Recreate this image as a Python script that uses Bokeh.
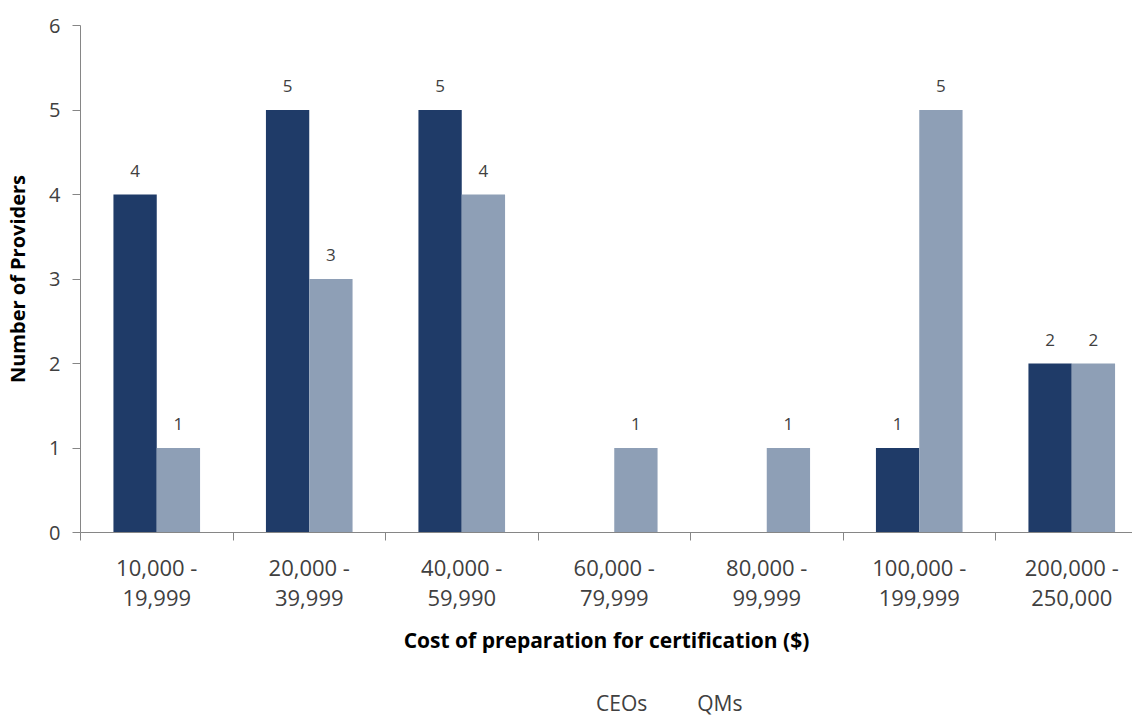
import numpy as np
from bokeh.plotting import figure
from bokeh.layouts import column
from bokeh.core.properties import value
from bokeh.models import (ColumnDataSource, FixedTicker, LabelSet, Legend, LegendItem,
                          Range1d, LinearAxis)
from bokeh.embed import file_html
from bokeh.resources import INLINE

cat_line1 = ["10,000 -", "20,000 -", "40,000 -", "60,000 -", "80,000 -",
             "100,000 -", "200,000 -"]
cat_line2 = ["19,999", "39,999", "59,990", "79,999", "99,999", "199,999", "250,000"]
ceos = [4, 5, 5, 0, 0, 1, 2]
qms = [1, 3, 4, 1, 1, 5, 2]
y_ticks = [0, 1, 2, 3, 4, 5, 6]
series_names = ["CEOs", "QMs"]

FONT = "Open Sans"
CEO_COLOR = "#1F3B68"
QM_COLOR = "#8E9FB6"
TEXT_COLOR = "#404040"
AXIS_COLOR = "#868686"

n = len(cat_line1)
idx = np.arange(n)
bw = 0.284
ceo_x = idx + 0.5 - bw / 2
qm_x = idx + 0.5 + bw / 2

p = figure(frame_width=1052, frame_height=507,
           output_backend="svg", toolbar_location=None,
           x_range=Range1d(0, 1052 / 152.5), y_range=Range1d(0, 6),
           min_border_left=80, min_border_right=0, min_border_top=25,
           min_border_bottom=0)
p.outline_line_color = None
p.xgrid.visible = False
p.ygrid.visible = False

src_c = ColumnDataSource(dict(x=ceo_x, top=ceos))
src_q = ColumnDataSource(dict(x=qm_x, top=qms))
p.vbar(x="x", top="top", width=bw, source=src_c, fill_color=CEO_COLOR, line_color=None)
p.vbar(x="x", top="top", width=bw, source=src_q, fill_color=QM_COLOR, line_color=None)

# value labels (skip zeros)
lab_x = [x for x, v in zip(ceo_x, ceos) if v > 0] + [x for x, v in zip(qm_x, qms) if v > 0]
lab_y = [v for v in ceos if v > 0] + [v for v in qms if v > 0]
lab_src = ColumnDataSource(dict(x=lab_x, y=lab_y, t=[str(v) for v in lab_y]))
p.add_layout(LabelSet(x="x", y="y", text="t", source=lab_src, y_offset=18,
                      text_align="center", text_baseline="bottom",
                      text_font=value(FONT), text_font_size="17px",
                      text_color=TEXT_COLOR))

centers = [float(i + 0.5) for i in idx]

# x axis: first line of category labels + separators
xa = p.xaxis[0]
xa.ticker = FixedTicker(ticks=centers, minor_ticks=list(range(n + 1)))
xa.major_label_overrides = {c: t for c, t in zip(centers, cat_line1)}
xa.major_tick_out = 0
xa.major_tick_in = 0
xa.minor_tick_out = 8
xa.minor_tick_in = 0
xa.minor_tick_line_color = AXIS_COLOR
xa.axis_line_color = AXIS_COLOR
xa.major_label_standoff = 11
xa.major_label_text_font = FONT
xa.major_label_text_font_size = "22px"
xa.major_label_text_color = TEXT_COLOR

# second line of category labels + axis title
xb = LinearAxis(ticker=FixedTicker(ticks=centers, minor_ticks=[]))
xb.major_label_overrides = {c: t for c, t in zip(centers, cat_line2)}
xb.axis_line_color = None
xb.major_tick_line_color = None
xb.minor_tick_line_color = None
xb.major_tick_out = 0
xb.major_tick_in = 0
xb.major_label_standoff = 5
xb.major_label_text_font = FONT
xb.major_label_text_font_size = "22px"
xb.major_label_text_color = TEXT_COLOR
xb.axis_label = "Cost of preparation for certification ($)"
xb.axis_label_text_font = FONT
xb.axis_label_text_font_size = "21px"
xb.axis_label_text_font_style = "bold"
xb.axis_label_text_color = "#000000"
xb.axis_label_standoff = 17
p.add_layout(xb, "below")

# y axis
ya = p.yaxis[0]
ya.ticker = FixedTicker(ticks=y_ticks, minor_ticks=[])
ya.major_tick_out = 8
ya.major_tick_in = 0
ya.major_tick_line_color = AXIS_COLOR
ya.axis_line_color = AXIS_COLOR
ya.minor_tick_line_color = None
ya.major_label_standoff = 12
ya.major_label_text_font = FONT
ya.major_label_text_font_size = "20px"
ya.major_label_text_color = TEXT_COLOR
ya.axis_label = "Number of Providers"
ya.axis_label_text_font = FONT
ya.axis_label_text_font_size = "20px"
ya.axis_label_text_font_style = "bold"
ya.axis_label_text_color = "#000000"
ya.axis_label_standoff = 15

# legend strip below the chart (its own small figure so it is never clipped)
p2 = figure(width=1132, height=64, output_backend="svg", toolbar_location=None,
            x_range=Range1d(0, 1), y_range=Range1d(0, 1),
            x_axis_location=None, y_axis_location=None,
            min_border_left=0, min_border_right=0, min_border_top=0,
            min_border_bottom=0)
p2.outline_line_color = None
p2.xgrid.visible = False
p2.ygrid.visible = False
lc = p2.vbar(x=[], top=[], width=0.1, fill_color=CEO_COLOR, line_color=None)
lq = p2.vbar(x=[], top=[], width=0.1, fill_color=QM_COLOR, line_color=None)

legend = Legend(items=[LegendItem(label=series_names[0], renderers=[lc]),
                       LegendItem(label=series_names[1], renderers=[lq])],
                orientation="horizontal", location=(494, 3),
                label_text_font=FONT, label_text_font_size="21px",
                label_text_color=TEXT_COLOR, glyph_width=14, glyph_height=14,
                spacing=28, label_standoff=8, border_line_color=None,
                background_fill_alpha=0, margin=0, padding=0)
p2.add_layout(legend)

layout = column(p, p2)
html = file_html(layout, INLINE)
open("out.html", "w").write(html)
